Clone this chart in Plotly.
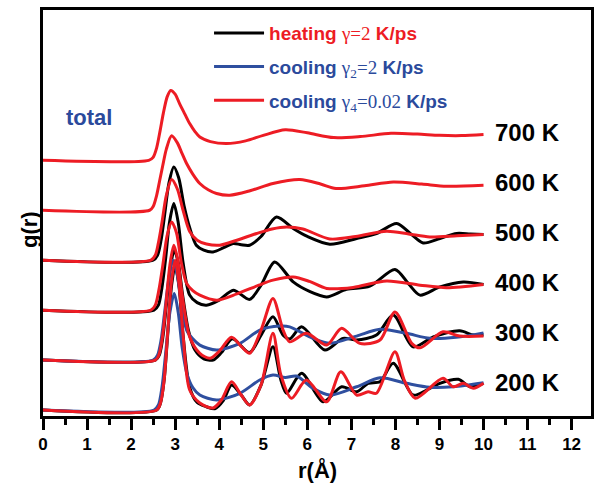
import plotly.graph_objects as go

# ---------------- data ----------------
temps = ["200 K", "300 K", "400 K", "500 K", "600 K", "700 K"]
offset_step = 2.0

# 700 K
r_700_red = [0, 2.40, 2.50, 2.58, 2.66, 2.73, 2.82, 2.90, 3.00, 3.10, 3.22, 3.33, 3.45, 3.56, 3.80, 4.17, 4.60, 5.00, 5.50, 6.00, 6.60, 7.20, 7.90, 8.50, 9.00, 9.50, 10.0]
g_700_red = [0, 0, 0.12, 0.5, 1.2, 1.87, 2.55, 2.8, 2.65, 2.27, 1.85, 1.47, 1.15, 0.93, 0.75, 0.67, 0.78, 1.0, 1.22, 1.1, 0.91, 0.95, 1.08, 1.05, 1.0, 0.99, 1.03]

# 600 K
r_600_red = [0, 2.42, 2.50, 2.58, 2.65, 2.72, 2.80, 2.92, 3.05, 3.15, 3.26, 3.40, 3.56, 3.75, 3.94, 4.24, 4.70, 5.22, 5.83, 6.30, 6.65, 7.30, 7.95, 8.60, 9.16, 10.0]
g_600_red = [0, 0, 0.15, 0.6, 1.2, 1.8, 2.45, 2.98, 2.7, 2.3, 1.87, 1.45, 1.07, 0.82, 0.67, 0.6, 0.78, 1.07, 1.23, 1.05, 0.87, 0.98, 1.13, 1.05, 0.96, 1.0]

# 500 K
r_500_black = [0, 2.50, 2.60, 2.68, 2.76, 2.86, 2.97, 3.08, 3.20, 3.33, 3.48, 3.65, 3.86, 4.10, 4.32, 4.50, 4.69, 4.95, 5.30, 5.68, 6.00, 6.51, 7.12, 7.57, 8.03, 8.35, 8.63, 9.01, 9.39, 9.70, 10.0]
g_500_black = [0, 0, 0.2, 0.8, 1.8, 3.1, 3.73, 3.3, 2.2, 1.3, 0.6, 0.4, 0.33, 0.5, 0.67, 0.62, 0.6, 0.95, 1.73, 1.27, 0.95, 0.64, 0.87, 1.07, 1.47, 1.05, 0.69, 0.87, 1.07, 1.05, 1.03]
r_500_red = [0, 2.45, 2.55, 2.62, 2.70, 2.80, 2.92, 3.05, 3.18, 3.33, 3.50, 3.71, 4.01, 4.40, 4.85, 5.20, 5.53, 5.90, 6.51, 7.10, 7.80, 8.30, 8.78, 9.40, 10.0]
g_500_red = [0, 0, 0.2, 0.7, 1.5, 2.6, 3.23, 2.85, 2.0, 1.15, 0.8, 0.65, 0.6, 0.8, 1.07, 1.25, 1.33, 1.25, 0.85, 0.95, 1.16, 1.05, 0.93, 0.98, 1.03]

# 400 K
r_400_black = [0, 2.52, 2.62, 2.70, 2.78, 2.87, 2.97, 3.07, 3.18, 3.33, 3.50, 3.71, 4.00, 4.32, 4.69, 4.95, 5.26, 5.68, 6.05, 6.44, 6.89, 7.42, 7.99, 8.30, 8.56, 9.01, 9.54, 10.0]
g_400_black = [0, 0, 0.2, 0.9, 2.0, 3.5, 4.27, 3.5, 1.9, 0.6, 0.3, 0.2, 0.4, 0.8, 0.43, 1.0, 1.93, 1.13, 0.75, 0.53, 0.83, 0.96, 1.63, 1.05, 0.6, 0.93, 1.13, 1.03]
r_400_red = [0, 2.45, 2.55, 2.63, 2.72, 2.82, 2.92, 3.03, 3.14, 3.26, 3.40, 3.56, 3.94, 4.40, 4.90, 5.22, 5.68, 6.05, 6.44, 7.04, 7.80, 8.56, 9.16, 10.0]
g_400_red = [0, 0, 0.2, 0.8, 1.8, 3.0, 3.53, 3.1, 1.9, 1.07, 0.78, 0.6, 0.4, 0.65, 1.0, 1.2, 1.33, 1.15, 0.87, 0.91, 1.17, 1.0, 0.9, 1.03]

# 300 K
r_300_black = [0, 2.55, 2.64, 2.72, 2.80, 2.89, 2.98, 3.07, 3.17, 3.30, 3.45, 3.65, 3.86, 4.05, 4.30, 4.69, 4.95, 5.22, 5.45, 5.60, 5.87, 6.40, 6.81, 7.12, 7.57, 7.95, 8.40, 8.86, 9.46, 9.77, 10.0]
g_300_black = [0, 0, 0.2, 0.9, 2.2, 3.7, 4.4, 3.9, 2.6, 1.2, 0.4, 0.05, 0.0, 0.3, 0.85, 0.3, 1.0, 1.73, 1.0, 0.85, 1.33, 0.4, 0.87, 0.8, 1.0, 1.8, 0.53, 0.93, 1.17, 1.0, 1.0]
r_300_blue = [0, 2.50, 2.60, 2.68, 2.76, 2.86, 2.95, 3.05, 3.15, 3.26, 3.40, 3.56, 3.94, 4.47, 4.92, 5.37, 5.60, 6.13, 6.51, 7.12, 7.65, 8.25, 8.78, 9.38, 10.0]
g_300_blue = [0, 0, 0.2, 0.8, 1.9, 3.3, 4.0, 3.4, 2.2, 1.2, 0.85, 0.6, 0.4, 0.67, 1.2, 1.36, 1.33, 0.87, 0.67, 0.96, 1.23, 1.07, 0.87, 0.91, 1.09]
r_300_red = [0, 2.55, 2.63, 2.71, 2.79, 2.88, 2.97, 3.06, 3.16, 3.33, 3.56, 3.79, 4.00, 4.28, 4.50, 4.69, 4.95, 5.22, 5.45, 5.60, 5.98, 6.44, 6.78, 7.19, 7.65, 7.99, 8.37, 8.56, 9.08, 9.46, 10.0]
g_300_red = [0, 0, 0.2, 0.9, 2.2, 3.8, 4.6, 4.0, 2.6, 0.93, 0.27, 0.07, 0.35, 0.91, 0.55, 0.27, 1.2, 2.47, 1.2, 0.73, 1.07, 0.6, 1.27, 0.67, 0.8, 1.93, 0.67, 0.49, 1.13, 0.96, 0.96]

# 200 K
r_200_black = [0, 2.58, 2.67, 2.75, 2.83, 2.92, 3.00, 3.09, 3.18, 3.33, 3.50, 3.71, 3.90, 4.10, 4.28, 4.50, 4.69, 4.95, 5.22, 5.40, 5.53, 5.87, 6.36, 6.78, 7.12, 7.38, 7.65, 7.95, 8.40, 8.71, 9.01, 9.43, 9.69, 10.0]
g_200_black = [0, 0, 0.3, 1.2, 3.0, 5.0, 5.8, 4.9, 3.0, 0.9, 0.3, 0.13, 0.05, 0.4, 1.0, 0.6, 0.2, 1.0, 2.53, 1.2, 0.67, 1.47, 0.33, 0.93, 0.73, 1.07, 1.13, 1.87, 0.6, 0.8, 1.07, 1.23, 0.93, 1.07]
r_200_blue = [0, 2.52, 2.62, 2.70, 2.78, 2.88, 2.98, 3.07, 3.16, 3.26, 3.40, 3.56, 3.94, 4.47, 4.92, 5.22, 5.50, 5.75, 6.13, 6.51, 7.12, 7.65, 8.25, 8.78, 9.31, 10.0]
g_200_blue = [0, 0, 0.2, 0.9, 2.2, 3.9, 4.67, 3.9, 2.5, 1.5, 0.9, 0.6, 0.4, 0.67, 1.2, 1.4, 1.3, 1.36, 0.87, 0.6, 0.93, 1.29, 1.07, 0.91, 0.93, 1.09]
r_200_red = [0, 2.58, 2.67, 2.75, 2.83, 2.92, 3.00, 3.09, 3.18, 3.33, 3.56, 3.86, 4.05, 4.28, 4.50, 4.69, 4.95, 5.22, 5.40, 5.64, 5.98, 6.44, 6.76, 7.12, 7.38, 7.57, 7.99, 8.20, 8.45, 9.08, 9.31, 9.54, 9.77, 10.0]
g_200_red = [0, 0, 0.3, 1.2, 3.1, 5.2, 6.0, 5.0, 3.0, 0.8, 0.28, 0.08, 0.4, 1.13, 0.6, 0.2, 1.0, 3.07, 1.4, 0.47, 1.2, 0.33, 1.53, 0.6, 0.73, 0.67, 2.33, 1.2, 0.47, 1.27, 0.93, 1.07, 0.87, 1.07]

black_curves = {"200 K": (r_200_black, g_200_black), "300 K": (r_300_black, g_300_black),
                "400 K": (r_400_black, g_400_black), "500 K": (r_500_black, g_500_black)}
blue_curves = {"200 K": (r_200_blue, g_200_blue), "300 K": (r_300_blue, g_300_blue)}
red_curves = {"200 K": (r_200_red, g_200_red), "300 K": (r_300_red, g_300_red),
              "400 K": (r_400_red, g_400_red), "500 K": (r_500_red, g_500_red),
              "600 K": (r_600_red, g_600_red), "700 K": (r_700_red, g_700_red)}

x_ticks = list(range(0, 13))

# ---------------- style ----------------
RED = "#ED1C24"
BLUE = "#2F4F9F"
TXT_BLUE = "#2B4A9C"
SANS = "Liberation Sans, Arial, sans-serif"
SERIF = "Liberation Serif, Times New Roman, serif"

name_black = (f'<span style="color:{RED}"><b>heating </b>'
              f'<span style="font-family:{SERIF}">γ=2</span><b> K/ps</b></span>')
name_blue = (f'<span style="color:{TXT_BLUE}"><b>cooling </b>'
             f'<span style="font-family:{SERIF}">γ<sub>2</sub>=2</span><b> K/ps</b></span>')
name_red = (f'<span style="color:{TXT_BLUE}"><b>cooling </b>'
            f'<span style="font-family:{SERIF}">γ<sub>4</sub>=0.02</span><b> K/ps</b></span>')

offsets = {t: i * offset_step for i, t in enumerate(temps)}

fig = go.Figure()

def add_set(curves, color, name, rank):
    first = True
    for t in temps:
        if t not in curves:
            continue
        r, g = curves[t]
        fig.add_trace(go.Scatter(
            x=r, y=[v + offsets[t] for v in g], mode="lines",
            line=dict(color=color, width=3, shape="spline", smoothing=0.8),
            name=name, legendgroup=name, showlegend=first, legendrank=rank,
            hoverinfo="skip"))
        first = False

add_set(black_curves, "black", name_black, 1)
add_set(blue_curves, BLUE, name_blue, 2)
add_set(red_curves, RED, name_red, 3)

# temperature labels
for t in temps:
    fig.add_annotation(x=10.22, y=offsets[t] + 1.1, text=f"<b>{t}</b>", showarrow=False,
                       xanchor="left", yanchor="middle",
                       font=dict(family=SANS, size=24, color="black"))

fig.add_annotation(x=0.48, y=11.7, text="<b>total</b>", showarrow=False,
                   xanchor="left", yanchor="middle",
                   font=dict(family=SANS, size=22, color=TXT_BLUE))

fig.add_annotation(xref="paper", yref="paper", x=-0.026, y=0.46, text="<b>g(r)</b>",
                   textangle=-90, showarrow=False, xanchor="center", yanchor="middle",
                   font=dict(family=SANS, size=22, color="black"))

fig.add_annotation(xref="paper", yref="paper", x=0.5, y=-0.133, text="<b>r(Å)</b>",
                   showarrow=False, xanchor="center", yanchor="middle",
                   font=dict(family=SANS, size=22, color="black"))

fig.update_layout(
    width=595, height=483,
    margin=dict(l=43, r=4, t=10, b=67, autoexpand=False),
    paper_bgcolor="white", plot_bgcolor="white",
    font=dict(family=SANS, color="black"),
    legend=dict(x=0.303, y=0.99, xanchor="left", yanchor="top",
                bgcolor="rgba(0,0,0,0)", font=dict(family=SANS, size=19),
                itemwidth=50, tracegroupgap=6, traceorder="grouped"),
    showlegend=True,
)

fig.update_xaxes(
    range=[0, 12.44], showline=True, linecolor="black", linewidth=2.5, mirror=True,
    ticks="outside", ticklen=11, tickwidth=2.5, tickcolor="black",
    tickvals=x_ticks, ticktext=[f"<b>{v}</b>" for v in x_ticks],
    tickfont=dict(family=SANS, size=17, color="black"),
    minor=dict(dtick=0.5, tick0=0, ticks="outside", ticklen=6, tickwidth=2.5, tickcolor="black"),
    showgrid=False, zeroline=False, automargin=False,
)
fig.update_yaxes(
    range=[-0.24, 16.02], showline=True, linecolor="black", linewidth=2.5, mirror=True,
    ticks="", showticklabels=False, showgrid=False, zeroline=False, automargin=False,
)

fig.write_html("out.html", config={"displayModeBar": False},
               post_script="document.body.style.margin='0';document.body.style.overflow='hidden';")
